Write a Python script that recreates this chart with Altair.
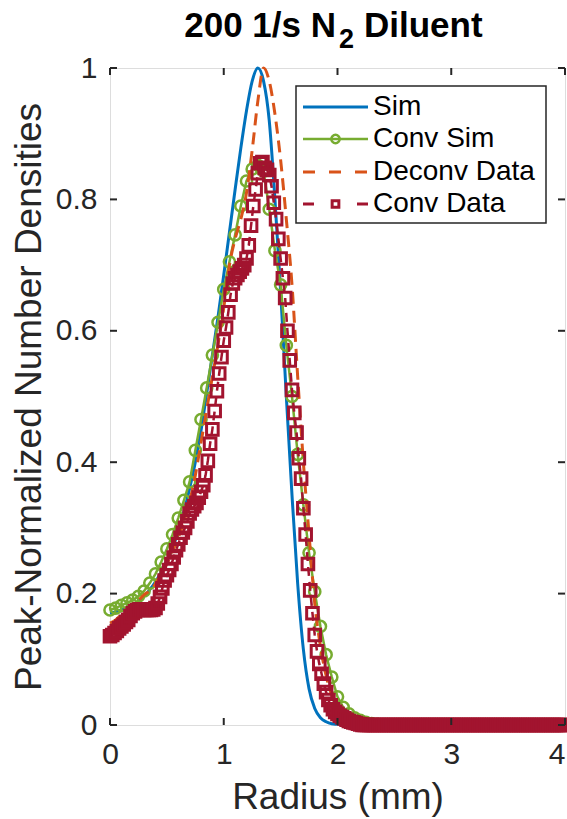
import altair as alt
import numpy as np
import pandas as pd

# ---------------- data ----------------
# sampling grids (mm)
X_COARSE = [round(i * 0.05, 2) for i in range(81)]   # Sim, Conv Sim, Deconv Data
X_FINE = [round(i * 0.02, 2) for i in range(201)]    # Conv Data

SIM = [0.170, 0.172, 0.175, 0.178, 0.182, 0.188, 0.196, 0.206, 0.218, 0.233,
       0.250, 0.270, 0.295, 0.325, 0.360, 0.400, 0.448, 0.505, 0.563, 0.622,
       0.685, 0.750, 0.815, 0.878, 0.935, 0.980, 1.000, 0.980, 0.920, 0.800,
       0.660, 0.500, 0.350, 0.215, 0.115, 0.055, 0.025, 0.011, 0.005, 0.002,
       0.001, 0, 0, 0, 0, 0, 0, 0, 0, 0,
       0, 0, 0, 0, 0, 0, 0, 0, 0, 0,
       0, 0, 0, 0, 0, 0, 0, 0, 0, 0,
       0, 0, 0, 0, 0, 0, 0, 0, 0, 0, 0]

CONV_SIM = [0.175, 0.178, 0.182, 0.186, 0.190, 0.196, 0.204, 0.216, 0.230, 0.248,
            0.268, 0.290, 0.315, 0.342, 0.370, 0.418, 0.465, 0.513, 0.563, 0.613,
            0.663, 0.705, 0.746, 0.790, 0.828, 0.846, 0.852, 0.843, 0.785, 0.722,
            0.670, 0.578, 0.500, 0.412, 0.335, 0.262, 0.203, 0.150, 0.107, 0.073,
            0.043, 0.027, 0.017, 0.011, 0.007, 0.004, 0.002, 0.001, 0, 0,
            0, 0, 0, 0, 0, 0, 0, 0, 0, 0,
            0, 0, 0, 0, 0, 0, 0, 0, 0, 0,
            0, 0, 0, 0, 0, 0, 0, 0, 0, 0, 0]

DECONV = [0.155, 0.160, 0.168, 0.175, 0.183, 0.190, 0.198, 0.205, 0.215, 0.230,
          0.245, 0.265, 0.285, 0.310, 0.340, 0.380, 0.430, 0.480, 0.530, 0.580,
          0.635, 0.700, 0.740, 0.770, 0.810, 0.875, 0.950, 1.000, 0.980, 0.930,
          0.860, 0.770, 0.670, 0.530, 0.400, 0.290, 0.185, 0.120, 0.075, 0.045,
          0.028, 0.018, 0.011, 0.007, 0.004, 0.002, 0.001, 0, 0, 0,
          0, 0, 0, 0, 0, 0, 0, 0, 0, 0,
          0, 0, 0, 0, 0, 0, 0, 0, 0, 0,
          0, 0, 0, 0, 0, 0, 0, 0, 0, 0, 0]

CONV_DATA = [0.135, 0.137, 0.140, 0.143, 0.147, 0.150, 0.153, 0.157, 0.160, 0.166,
             0.170, 0.173, 0.175, 0.176, 0.176, 0.175, 0.175, 0.175, 0.175, 0.176,
             0.178, 0.185, 0.195, 0.208, 0.220, 0.228, 0.236, 0.245, 0.255, 0.266,
             0.275, 0.285, 0.293, 0.300, 0.310, 0.322, 0.328, 0.333, 0.338, 0.346,
             0.355, 0.365, 0.380, 0.402, 0.428, 0.450, 0.478, 0.508, 0.535, 0.560,
             0.585, 0.605, 0.628, 0.655, 0.672, 0.680, 0.685, 0.690, 0.695, 0.700,
             0.710, 0.730, 0.760, 0.790, 0.815, 0.840, 0.855, 0.857, 0.848, 0.845,
             0.837, 0.820, 0.795, 0.770, 0.740, 0.710, 0.680, 0.650, 0.600, 0.555,
             0.510, 0.475, 0.445, 0.406, 0.375, 0.330, 0.290, 0.245, 0.205, 0.170,
             0.137, 0.112, 0.093, 0.078, 0.063, 0.050, 0.038, 0.030, 0.024, 0.020,
             0.017, 0.014, 0.012, 0.010, 0.008, 0.006, 0.005, 0.004, 0.003, 0.002,
             0.001, 0, 0, 0, 0, 0, 0, 0, 0, 0,
             0, 0, 0, 0, 0, 0, 0, 0, 0, 0,
             0, 0, 0, 0, 0, 0, 0, 0, 0, 0,
             0, 0, 0, 0, 0, 0, 0, 0, 0, 0,
             0, 0, 0, 0, 0, 0, 0, 0, 0, 0,
             0, 0, 0, 0, 0, 0, 0, 0, 0, 0,
             0, 0, 0, 0, 0, 0, 0, 0, 0, 0,
             0, 0, 0, 0, 0, 0, 0, 0, 0, 0,
             0, 0, 0, 0, 0, 0, 0, 0, 0, 0, 0]

X_TICKS = [0, 1, 2, 3, 4]
Y_TICKS = [0, 0.2, 0.4, 0.6, 0.8, 1]
SERIES = ["Sim", "Conv Sim", "Deconv Data", "Conv Data"]
TITLE_MAIN = "200 1/s N"
TITLE_SUB = "2"
TITLE_END = "Diluent"

# ---------------- styling ----------------
BLUE, GREEN, ORANGE, CRIMSON = "#0072BD", "#77AC30", "#D95319", "#A2142F"
AX = "#262626"
FONT = "Liberation Sans"
W, H = 455, 657
L, T = 110, 68

xscale = alt.Scale(domain=[0, 4], nice=False, zero=False)
yscale = alt.Scale(domain=[0, 1], nice=False, zero=False)

xaxis = alt.Axis(values=X_TICKS, format="~g", title="Radius (mm)", domain=False,
                 ticks=False, tickSize=0, grid=False, labelFlush=False, labelFont=FONT,
                 labelFontSize=30, labelColor=AX, labelPadding=14,
                 labelAlign=alt.condition("datum.value == 4", alt.value("right"), alt.value("center")),
                 titleFont=FONT, titleFontSize=37, titleFontWeight="normal", titleColor=AX,
                 titleX=W / 2, titleY=83, titleBaseline="alphabetic", titleAlign="center")
yaxis = alt.Axis(values=Y_TICKS, format="~g", title="Peak-Normalized Number Densities",
                 domain=False, ticks=False, tickSize=0, grid=False, labelFlush=False,
                 labelFont=FONT, labelFontSize=30, labelColor=AX, labelPadding=13,
                 titleFont=FONT, titleFontSize=37, titleFontWeight="normal", titleColor=AX,
                 titleAngle=270, titleX=-70, titleY=H / 2, titleBaseline="alphabetic",
                 titleAlign="center")


def X(f):
    return alt.X(f, type="quantitative", scale=xscale, axis=xaxis)


def Y(f):
    return alt.Y(f, type="quantitative", scale=yscale, axis=yaxis)


sim_df = pd.DataFrame({"x": X_COARSE, "y": SIM})
csim_df = pd.DataFrame({"x": X_COARSE, "y": CONV_SIM})
dec_df = pd.DataFrame({"x": X_COARSE, "y": DECONV})
cdat_df = pd.DataFrame({"x": X_FINE, "y": CONV_DATA})
xt_df = pd.DataFrame({"v": X_TICKS})
yt_df = pd.DataFrame({"v": Y_TICKS})
one = pd.DataFrame({"k": [0]})

layers = []
layers.append(alt.Chart(sim_df).mark_line(color=BLUE, strokeWidth=3, interpolate="monotone")
              .encode(x=X("x"), y=Y("y")))
layers.append(alt.Chart(csim_df).mark_line(color=GREEN, strokeWidth=2.5)
              .encode(x=X("x"), y=Y("y")))
layers.append(alt.Chart(csim_df).mark_point(shape="circle", filled=False, size=125,
                                            strokeWidth=2.5, color=GREEN, opacity=1)
              .encode(x=X("x"), y=Y("y")))
layers.append(alt.Chart(dec_df).mark_line(color=ORANGE, strokeWidth=3, strokeDash=[12, 7],
                                          interpolate="monotone")
              .encode(x=X("x"), y=Y("y")))
layers.append(alt.Chart(cdat_df).mark_line(color=CRIMSON, strokeWidth=2.5, strokeDash=[9, 6])
              .encode(x=X("x"), y=Y("y")))
layers.append(alt.Chart(cdat_df).mark_point(shape="square", filled=False, size=135,
                                            strokeWidth=3, color=CRIMSON, opacity=1)
              .encode(x=X("x"), y=Y("y")))

# inward ticks on all four sides (MATLAB box style)
tk = dict(color=AX, strokeWidth=2)
layers.append(alt.Chart(yt_df).mark_rule(**tk).encode(y=Y("v"), x=alt.value(0), x2=alt.value(7)))
layers.append(alt.Chart(yt_df).mark_rule(**tk).encode(y=Y("v"), x=alt.value(W - 7), x2=alt.value(W)))
layers.append(alt.Chart(xt_df).mark_rule(**tk).encode(x=X("v"), y=alt.value(H - 7), y2=alt.value(H)))
layers.append(alt.Chart(xt_df).mark_rule(**tk).encode(x=X("v"), y=alt.value(0), y2=alt.value(7)))

# legend box
lx0, lx1, ly0, ly1 = 296 - L, 546 - L, 86 - T, 223 - T
layers.append(alt.Chart(one).mark_rect(fill="white", stroke=AX, strokeWidth=1.5)
              .encode(x=alt.value(lx0), x2=alt.value(lx1), y=alt.value(ly0), y2=alt.value(ly1)))
rows = [107 - T, 139 - T, 172 - T, 204 - T]
sx0, sx1, sxm, tx = 303 - L, 368 - L, 335.5 - L, 373 - L
layers.append(alt.Chart(one).mark_rule(color=BLUE, strokeWidth=3)
              .encode(x=alt.value(sx0), x2=alt.value(sx1), y=alt.value(rows[0])))
layers.append(alt.Chart(one).mark_rule(color=GREEN, strokeWidth=2.5)
              .encode(x=alt.value(sx0), x2=alt.value(sx1), y=alt.value(rows[1])))
layers.append(alt.Chart(one).mark_point(shape="circle", filled=False, size=70, strokeWidth=2.5,
                                        color=GREEN, opacity=1)
              .encode(x=alt.value(sxm), y=alt.value(rows[1])))
layers.append(alt.Chart(one).mark_rule(color=ORANGE, strokeWidth=3, strokeDash=[12, 14])
              .encode(x=alt.value(sx0), x2=alt.value(sx1), y=alt.value(rows[2])))
layers.append(alt.Chart(one).mark_rule(color=CRIMSON, strokeWidth=3, strokeDash=[11, 43])
              .encode(x=alt.value(sx0), x2=alt.value(sx1 + 1), y=alt.value(rows[3])))
layers.append(alt.Chart(one).mark_point(shape="square", filled=False, size=45, strokeWidth=3,
                                        color=CRIMSON, opacity=1)
              .encode(x=alt.value(sxm), y=alt.value(rows[3])))
for name, ry in zip(SERIES, rows):
    layers.append(alt.Chart(one).mark_text(font=FONT, fontSize=28, color="black", align="left",
                                           baseline="middle")
                  .encode(x=alt.value(tx), y=alt.value(ry), text=alt.value(name)))

# title with subscript
tfont = dict(font=FONT, fontWeight="bold", color="black", baseline="alphabetic")
layers.append(alt.Chart(one).mark_text(fontSize=35, align="right", **tfont)
              .encode(x=alt.value(336 - L), y=alt.value(37 - T), text=alt.value(TITLE_MAIN)))
layers.append(alt.Chart(one).mark_text(fontSize=27, align="left", **tfont)
              .encode(x=alt.value(339 - L), y=alt.value(48 - T), text=alt.value(TITLE_SUB)))
layers.append(alt.Chart(one).mark_text(fontSize=35, align="left", **tfont)
              .encode(x=alt.value(364 - L), y=alt.value(37 - T), text=alt.value(TITLE_END)))

chart = (alt.layer(*layers)
         .properties(width=W, height=H,
                     padding={"left": L, "top": T, "right": 567 - L - W, "bottom": 819 - T - H},
                     autosize=alt.AutoSizeParams(type="none"))
         .configure_view(stroke=AX, strokeWidth=2)
         .configure(background="white"))

chart.save("out.html", embed_options={"renderer": "svg", "actions": False})
